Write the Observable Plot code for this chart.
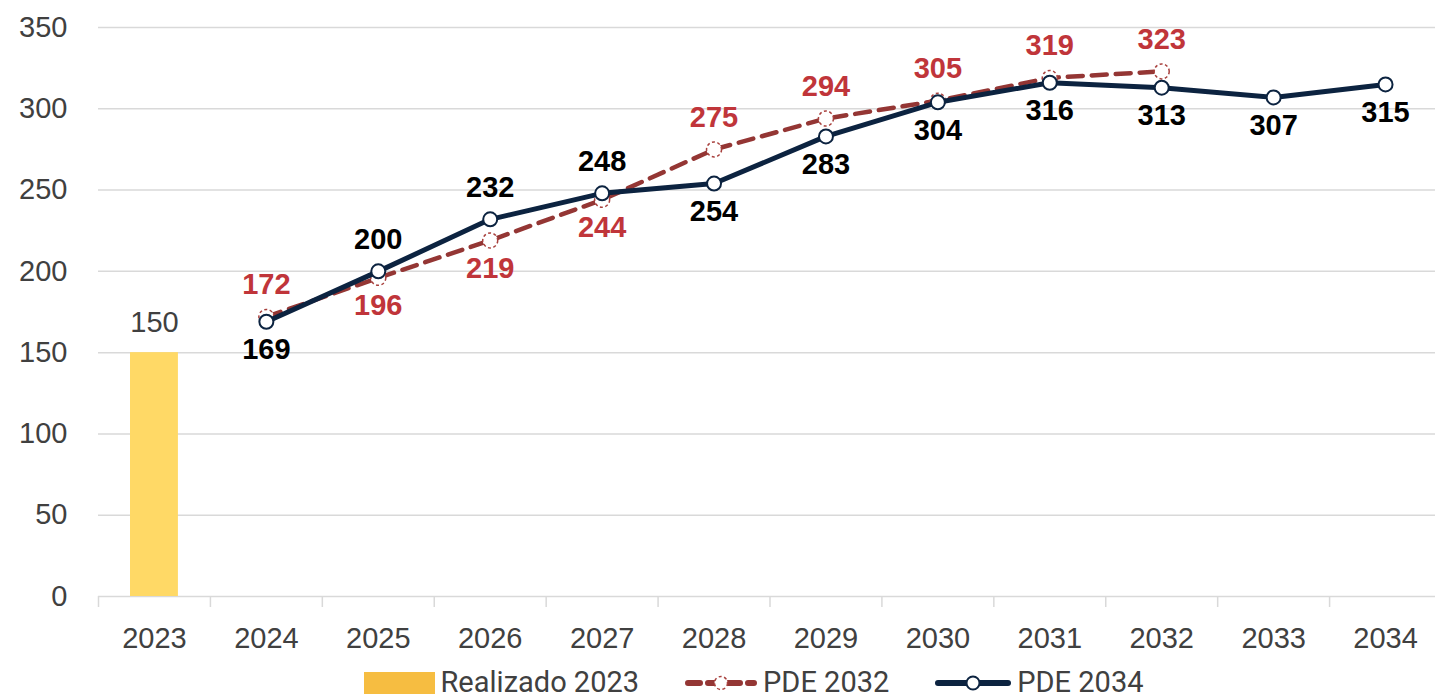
<!DOCTYPE html>
<html>
<head>
<meta charset="utf-8">
<script src="https://cdn.jsdelivr.net/npm/d3@7"></script>
<script src="https://cdn.jsdelivr.net/npm/@observablehq/plot@0.6"></script>
<style>
  html, body { margin: 0; padding: 0; background: #fff; overflow: hidden; }
  body { width: 1435px; height: 697px; font-family: "Liberation Sans", Arial, sans-serif; }
  #chart { width: 1441px; height: 668px; }
  #legend { display: flex; justify-content: center; align-items: center; height: 29px; line-height: 29px; padding-left: 72px; font-size: 29px; color: #404040; font-family: "Roboto", "Liberation Sans", sans-serif; }
  #legend .item { display: flex; align-items: center; margin-right: 46px; height: 29px; }
  #legend .item:last-child { margin-right: 0; }
  #legend span { line-height: 29px; }
  #legend svg { margin-right: 6px; }
</style>
</head>
<body>
<div id="chart"></div>
<div id="legend"></div>
<script>
// ---- data ----
const years = [2023, 2024, 2025, 2026, 2027, 2028, 2029, 2030, 2031, 2032, 2033, 2034];
const realizadoYears = [2023];
const realizadoValues = [150];
const pde2032Years = [2024, 2025, 2026, 2027, 2028, 2029, 2030, 2031, 2032];
const pde2032Values = [172, 196, 219, 244, 275, 294, 305, 319, 323];
const pde2032LabelPos = ["above", "below", "below", "below", "above", "above", "above", "above", "above"];
const pde2034Years = [2024, 2025, 2026, 2027, 2028, 2029, 2030, 2031, 2032, 2033, 2034];
const pde2034Values = [169, 200, 232, 248, 254, 283, 304, 316, 313, 307, 315];
const pde2034LabelPos = ["below", "above", "above", "above", "below", "below", "below", "below", "below", "below", "below"];
const yTicks = [0, 50, 100, 150, 200, 250, 300, 350];
const seriesNames = ["Realizado 2023", "PDE 2032", "PDE 2034"];

// ---- tables ----
const bars = realizadoYears.map((x, i) => ({x, y: realizadoValues[i]}));
const s32 = pde2032Years.map((x, i) => ({x, y: pde2032Values[i], pos: pde2032LabelPos[i]}));
const s34 = pde2034Years.map((x, i) => ({x, y: pde2034Values[i], pos: pde2034LabelPos[i]}));
const boundaries = years.map(y => y - 0.5).concat([years[years.length - 1] + 0.5]);

const C_BAR = "#FFD966", C_BAR_LEG = "#F6BD41";
const C_32 = "#943634", C_32_TXT = "#C0353A", C_32_MK = "#A8403D";
const C_34 = "#0C2340";
const GRID = "#D9D9D9", TXT = "#404040";

const labelMarks = (data, fill) => [
  Plot.text(data.filter(d => d.pos === "above"), {x: "x", y: "y", text: d => String(d.y), dy: -32, fill, fontWeight: "bold", fontSize: 29}),
  Plot.text(data.filter(d => d.pos === "below"), {x: "x", y: "y", text: d => String(d.y), dy: 28, fill, fontWeight: "bold", fontSize: 29})
];

const chart = Plot.plot({
  width: 1441,
  height: 668,
  marginLeft: 98,
  marginRight: 0,
  marginTop: 27,
  marginBottom: 72,
  style: {fontFamily: "'Liberation Sans', Arial, sans-serif", fontSize: "29px", color: TXT, background: "#fff", overflow: "visible"},
  x: {type: "linear", domain: [years[0] - 0.5, years[years.length - 1] + 0.5]},
  y: {domain: [0, 350]},
  marks: [
    Plot.ruleY(yTicks, {stroke: GRID, strokeWidth: 1.5}),
    Plot.axisY({ticks: yTicks, tickSize: 0, tickPadding: 31, fontSize: 29, fill: TXT, label: null}),
    Plot.axisX({ticks: boundaries, tickSize: 11, tickFormat: () => "", stroke: GRID, strokeWidth: 1.5, label: null}),
    Plot.axisX({ticks: years, tickSize: 0, tickPadding: 31, tickFormat: d => String(d), fontSize: 29, fill: TXT, label: null}),
    Plot.rectY(bars, {x1: d => d.x - 0.5, x2: d => d.x + 0.5, y: "y", fill: C_BAR, insetLeft: 32, insetRight: 32}),
    Plot.text(bars, {x: "x", y: "y", text: d => String(d.y), dy: -30, fill: TXT, fontSize: 29}),
    Plot.line(s32, {x: "x", y: "y", stroke: C_32, strokeWidth: 4.5, strokeDasharray: "15,9"}),
    Plot.dot(s32, {x: "x", y: "y", r: 7.5, fill: "#fff", stroke: C_32_MK, strokeWidth: 1.5, strokeDasharray: "3,2.5"}),
    Plot.line(s34, {x: "x", y: "y", stroke: C_34, strokeWidth: 5}),
    Plot.dot(s34, {x: "x", y: "y", r: 7, fill: "#fff", stroke: C_34, strokeWidth: 2}),
    ...labelMarks(s32, C_32_TXT),
    ...labelMarks(s34, "#000")
  ]
});
document.getElementById("chart").appendChild(chart);

// ---- legend ----
const legend = document.getElementById("legend");
const swatches = [
  `<svg width="71" height="22"><rect x="0" y="0" width="71" height="22" fill="${C_BAR_LEG}"/></svg>`,
  `<svg width="72" height="24"><line x1="3" y1="12" x2="69" y2="12" stroke="${C_32}" stroke-width="6" stroke-dasharray="12,8" stroke-linecap="round"/><circle cx="36" cy="12" r="6.5" fill="#fff" stroke="${C_32_MK}" stroke-width="1.5" stroke-dasharray="3,2.5"/></svg>`,
  `<svg width="76" height="24"><line x1="3" y1="12" x2="73" y2="12" stroke="${C_34}" stroke-width="6" stroke-linecap="round"/><circle cx="38" cy="12" r="6.5" fill="#fff" stroke="${C_34}" stroke-width="2"/></svg>`
];
seriesNames.forEach((name, i) => {
  const item = document.createElement("div");
  item.className = "item";
  item.innerHTML = swatches[i] + `<span>${name}</span>`;
  legend.appendChild(item);
});
</script>
</body>
</html>
